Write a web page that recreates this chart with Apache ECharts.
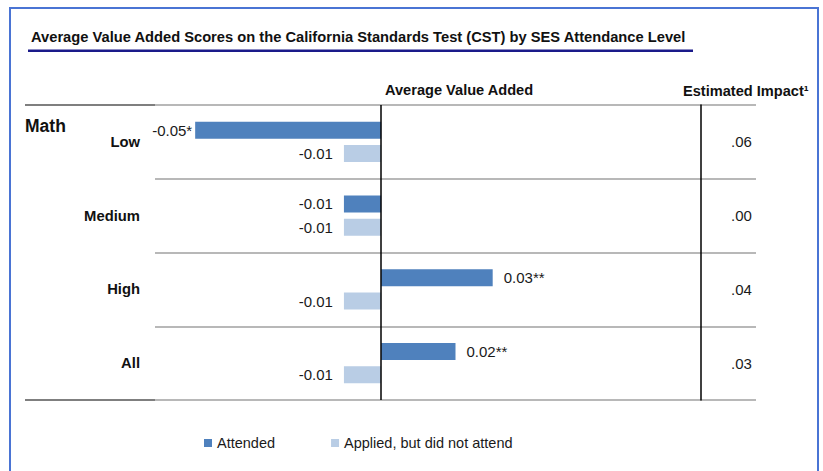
<!DOCTYPE html>
<html>
<head>
<meta charset="utf-8">
<script src="https://cdn.jsdelivr.net/npm/echarts@6/dist/echarts.min.js"></script>
<style>
html,body{margin:0;padding:0;background:#fff;}
#c{width:823px;height:471px;}
</style>
</head>
<body>
<div id="c"></div>
<script>
// ---- data ----
var categories = ['Low', 'Medium', 'High', 'All'];
var attended = [-0.05, -0.01, 0.03, 0.02];
var attendedSig = ['*', '', '**', '**'];
var applied = [-0.01, -0.01, -0.01, -0.01];
var appliedSig = ['', '', '', ''];
var impact = ['.06', '.00', '.04', '.03'];
var seriesNames = ['Attended', 'Applied, but did not attend'];
var titleText = 'Average Value Added Scores on the California Standards Test (CST) by SES Attendance Level';
var headerValue = 'Average Value Added';
var headerImpact = 'Estimated Impact\u00B9';
var subjectLabel = 'Math';

// ---- styles ----
var FONT = "'Liberation Sans', Arial, sans-serif";
var C_ATT = '#4f81bd';
var C_APP = '#b9cde5';

function buildData(vals, sigs) {
  return vals.map(function (v, i) {
    var neg = v < 0;
    return {
      value: v,
      label: {
        position: neg ? 'left' : 'right',
        distance: v <= -0.04 ? 3 : 11,
        formatter: v.toFixed(2) + sigs[i]
      }
    };
  });
}

var chart = echarts.init(document.getElementById('c'), null, {renderer: 'svg'});
var labelStyle = {show: true, fontSize: 15, color: '#1a1a1a', fontFamily: FONT};

chart.setOption({
  animation: false,
  backgroundColor: '#fff',
  title: {
    text: titleText,
    left: 31, top: 29, padding: 0,
    textStyle: {fontSize: 14.7, fontWeight: 'bold', color: '#111', fontFamily: FONT}
  },
  legend: {
    data: seriesNames,
    left: 204, top: 435, padding: 0,
    icon: 'rect', itemWidth: 8, itemHeight: 8, itemGap: 56,
    textStyle: {fontSize: 14.5, lineHeight: 16, color: '#1a1a1a', fontFamily: FONT}
  },
  grid: {left: 155, right: 67, top: 105, bottom: 71, containLabel: false},
  xAxis: {
    type: 'value', min: -0.0608, max: 0.1008,
    axisLine: {show: false}, axisTick: {show: false}, axisLabel: {show: false}, splitLine: {show: false}
  },
  yAxis: [{
    type: 'category', data: categories, inverse: true,
    axisLine: {show: false}, axisTick: {show: false},
    axisLabel: {margin: 15, fontSize: 14.8, fontWeight: 'bold', color: '#111', fontFamily: FONT},
    splitLine: {show: true, lineStyle: {color: '#a0a0a0', width: 1.5}}
  }, {
    type: 'category', data: impact, inverse: true, position: 'right', offset: -55,
    axisLine: {show: true, lineStyle: {color: '#000', width: 1.5}}, axisTick: {show: false},
    axisLabel: {margin: 30, fontSize: 15, color: '#1a1a1a', fontFamily: FONT},
    splitLine: {show: false}
  }],
  series: [{
    name: seriesNames[0], type: 'bar', yAxisIndex: 0,
    data: buildData(attended, attendedSig),
    barWidth: 17, barGap: '38%',
    itemStyle: {color: C_ATT},
    label: labelStyle,
    markLine: {
      silent: true, symbol: 'none', label: {show: false},
      lineStyle: {color: '#000', width: 1.5, type: 'solid'},
      data: [{xAxis: 0}]
    }
  }, {
    name: seriesNames[1], type: 'bar', yAxisIndex: 0,
    data: buildData(applied, appliedSig),
    barWidth: 17, barGap: '38%',
    itemStyle: {color: C_APP},
    label: labelStyle
  }],
  graphic: [
    {type: 'rect', shape: {x: 10, y: 8, width: 808, height: 500}, style: {fill: 'none', stroke: '#4a74d4', lineWidth: 2}, silent: true},
    {type: 'rect', shape: {x: 28, y: 49.5, width: 665, height: 2.5}, style: {fill: '#1a1a8a'}, silent: true},
    {type: 'line', shape: {x1: 25, y1: 105, x2: 155, y2: 105}, style: {stroke: '#555', lineWidth: 1.5}, silent: true},
    {type: 'line', shape: {x1: 25, y1: 400, x2: 155, y2: 400}, style: {stroke: '#555', lineWidth: 1.5}, silent: true},
    {type: 'text', x: 385, y: 89.5, style: {text: headerValue, font: 'bold 14.6px ' + FONT, fill: '#111', align: 'left', verticalAlign: 'middle'}},
    {type: 'text', x: 683, y: 90.5, style: {text: headerImpact, font: 'bold 14.6px ' + FONT, fill: '#111', align: 'left', verticalAlign: 'middle'}},
    {type: 'text', x: 25, y: 126, style: {text: subjectLabel, font: 'bold 17.5px ' + FONT, fill: '#111', align: 'left', verticalAlign: 'middle'}}
  ]
});
</script>
</body>
</html>
